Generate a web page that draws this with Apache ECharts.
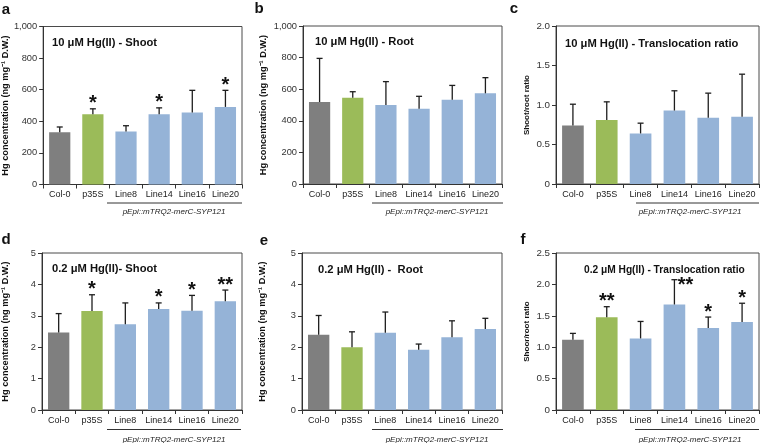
<!DOCTYPE html>
<html><head><meta charset="utf-8">
<script src="https://cdn.jsdelivr.net/npm/echarts@6.0.0/dist/echarts.min.js"></script>
<style>html,body{margin:0;padding:0;background:#fff}#c{width:760px;height:443px}</style>
</head><body><div id="c"></div>
<script>
// ---- data ----
const categories = ['Col-0', 'p35S', 'Line8', 'Line14', 'Line16', 'Line20'];

const shoot10 = [330, 445, 336, 445, 455, 491];
const shoot10Err = [34, 34, 36, 40, 141, 105];
const shoot10Stars = ['', '*', '', '*', '', '*'];

const root10 = [519, 546, 500, 477, 534, 574];
const root10Err = [276, 38, 148, 78, 90, 99];
const root10Stars = ['', '', '', '', '', ''];

const ratio10 = [0.74, 0.81, 0.64, 0.93, 0.84, 0.85];
const ratio10Err = [0.27, 0.23, 0.13, 0.25, 0.31, 0.54];
const ratio10Stars = ['', '', '', '', '', ''];

const shoot02 = [2.47, 3.15, 2.73, 3.22, 3.16, 3.46];
const shoot02Err = [0.60, 0.52, 0.68, 0.19, 0.49, 0.36];
const shoot02Stars = ['', '*', '', '*', '*', '**'];

const root02 = [2.40, 2.00, 2.46, 1.92, 2.32, 2.58];
const root02Err = [0.61, 0.49, 0.66, 0.18, 0.52, 0.34];
const root02Stars = ['', '', '', '', '', ''];

const ratio02 = [1.12, 1.475, 1.14, 1.68, 1.305, 1.40];
const ratio02Err = [0.10, 0.17, 0.27, 0.395, 0.175, 0.30];
const ratio02Stars = ['', '**', '', '**', '*', '*'];

const concTicks = {max: 1000, interval: 200};
const lowTicks = {max: 5, interval: 1};
const ratioTicks10 = {max: 2, interval: 0.5};
const ratioTicks02 = {max: 2.5, interval: 0.5};

const concName = 'Hg concentration (ng mg\u207B\u00B9 D.W.)';
const ratioName10 = 'Shoot/root ratio';
const ratioName02 = 'Shoor/root ratio';
const groupLabel = 'pEpi::mTRQ2-merC-SYP121';

// ---- styles / layout ----
const barColors = ['#7f7f7f', '#9bbb59', '#95b3d7', '#95b3d7', '#95b3d7', '#95b3d7'];
const FONT = 'Liberation Sans';

const panels = [
  {letter: 'a', lx: 6, ly: 10, title: '10 \u03BCM Hg(II) - Shoot', tx: 52, ty: 43, ts: 11.2,
   vals: shoot10, errs: shoot10Err, stars: shoot10Stars, ticks: concTicks, name: concName, nameSize: 9.2, nameGap: 32, fmt: 'comma', tickSize: 9.3,
   grid: {left: 42, top: 26.5, width: 200, height: 158}, br: [107, 242], capX: 174, row: 0},
  {letter: 'b', lx: 259, ly: 9, title: '10 \u03BCM Hg(II) - Root', tx: 315, ty: 42, ts: 11.2,
   vals: root10, errs: root10Err, stars: root10Stars, ticks: concTicks, name: concName, nameSize: 9.2, nameGap: 35, fmt: 'comma', tickSize: 9.3,
   grid: {left: 303, top: 26, width: 199, height: 158}, br: [372, 503], capX: 437, row: 0},
  {letter: 'c', lx: 514, ly: 9, title: '10 \u03BCM Hg(II) - Translocation ratio', tx: 565, ty: 44, ts: 11.2,
   vals: ratio10, errs: ratio10Err, stars: ratio10Stars, ticks: ratioTicks10, name: ratioName10, nameSize: 8, nameGap: 25, fmt: 'dec', tickSize: 9.8,
   grid: {left: 556, top: 26, width: 203, height: 158}, br: [636, 759], capX: 690, row: 0},
  {letter: 'd', lx: 6, ly: 240, title: '0.2 \u03BCM Hg(II)- Shoot', tx: 52, ty: 269, ts: 11.2,
   vals: shoot02, errs: shoot02Err, stars: shoot02Stars, ticks: lowTicks, name: concName, nameSize: 9.2, nameGap: 32, fmt: 'int', tickSize: 9.3,
   grid: {left: 41, top: 253, width: 201, height: 157}, br: [107, 241], capX: 174, row: 1},
  {letter: 'e', lx: 264, ly: 241, title: '0.2 \u03BCM Hg(II) -  Root', tx: 318, ty: 270, ts: 11.2,
   vals: root02, errs: root02Err, stars: root02Stars, ticks: lowTicks, name: concName, nameSize: 9.2, nameGap: 35, fmt: 'int', tickSize: 9.3,
   grid: {left: 302, top: 253, width: 200, height: 157}, br: [372, 503], capX: 437, row: 1},
  {letter: 'f', lx: 523, ly: 240, title: '0.2 \u03BCM Hg(II) - Translocation ratio', tx: 584, ty: 270, ts: 10.2,
   vals: ratio02, errs: ratio02Err, stars: ratio02Stars, ticks: ratioTicks02, name: ratioName02, nameSize: 8, nameGap: 25, fmt: 'dec', tickSize: 9.8,
   grid: {left: 556, top: 253, width: 203, height: 157}, br: [635, 759], capX: 690, row: 1,
   starShift: {3: [11, 11]}}
];

const rowY = [{line: 203, cap: 212}, {line: 429.5, cap: 439.5}];

function fmtFn(kind) {
  if (kind === 'comma') return v => v.toLocaleString('en-US');
  if (kind === 'dec') return v => (v === 0 ? '0' : v.toFixed(1));
  return v => String(v);
}

const grid = [], xAxis = [], yAxis = [], series = [], graphic = [];

panels.forEach((p, k) => {
  grid.push(Object.assign({show: true, borderColor: '#4a4a4a', borderWidth: 1, backgroundColor: 'transparent'}, p.grid));
  xAxis.push({
    type: 'category', gridIndex: k, data: categories,
    axisLine: {lineStyle: {color: '#333', width: 1}},
    axisTick: {show: true, interval: 0, length: 4, lineStyle: {color: '#333'}},
    axisLabel: {interval: 0, fontSize: 9, color: '#222', margin: 6, fontFamily: FONT}
  });
  yAxis.push({
    type: 'value', gridIndex: k, min: 0, max: p.ticks.max, interval: p.ticks.interval,
    name: p.name, nameLocation: 'middle', nameGap: p.nameGap,
    nameTextStyle: {fontSize: p.nameSize, fontWeight: 'bold', color: '#111', fontFamily: FONT},
    axisLine: {show: true, lineStyle: {color: '#333', width: 1}},
    axisTick: {show: true, length: 4, lineStyle: {color: '#333'}},
    splitLine: {show: false},
    axisLabel: {fontSize: p.tickSize, color: '#333', margin: 6, fontFamily: FONT, formatter: fmtFn(p.fmt)}
  });
  series.push({
    type: 'bar', xAxisIndex: k, yAxisIndex: k, barWidth: '64%', silent: true,
    data: p.vals.map((v, i) => ({value: v, itemStyle: {color: barColors[i]}}))
  });
  const stars = p.stars, shift = p.starShift || {};
  series.push({
    type: 'custom', xAxisIndex: k, yAxisIndex: k, z: 5, silent: true,
    encode: {x: 0, y: 1},
    data: p.vals.map((v, i) => [i, v, p.errs[i]]),
    renderItem: (params, api) => {
      const i = api.value(0), v = api.value(1), e = api.value(2);
      const p0 = api.coord([i, v]);
      const p1 = api.coord([i, v + e]);
      const st = {stroke: '#1e1e1e', lineWidth: 1.3};
      const children = [
        {type: 'line', shape: {x1: p0[0], y1: p0[1], x2: p1[0], y2: p1[1]}, style: st},
        {type: 'line', shape: {x1: p1[0] - 3, y1: p1[1], x2: p1[0] + 3, y2: p1[1]}, style: st}
      ];
      const s = stars[params.dataIndex];
      if (s) {
        const d = shift[params.dataIndex] || [0, 0];
        children.push({type: 'text', x: p1[0] + d[0], y: p1[1] - 5 + d[1],
          style: {text: s, fontSize: 20, fontWeight: 'bold', fontFamily: FONT, fill: '#111', align: 'center', verticalAlign: 'middle'}});
      }
      return {type: 'group', children};
    }
  });
  graphic.push({type: 'text', x: p.lx, y: p.ly,
    style: {text: p.letter, fontSize: 15, fontWeight: 'bold', fontFamily: FONT, fill: '#111', align: 'center', verticalAlign: 'middle'}});
  graphic.push({type: 'text', x: p.tx, y: p.ty,
    style: {text: p.title, fontSize: p.ts, fontWeight: 'bold', fontFamily: FONT, fill: '#111', align: 'left', verticalAlign: 'middle'}});
  const ry = rowY[p.row];
  graphic.push({type: 'line', shape: {x1: p.br[0], y1: ry.line, x2: p.br[1], y2: ry.line},
    style: {stroke: '#333', lineWidth: 1}});
  graphic.push({type: 'text', x: p.capX, y: ry.cap,
    style: {text: groupLabel, fontSize: 8, fontStyle: 'italic', fontFamily: FONT, fill: '#222', align: 'center', verticalAlign: 'middle'}});
});

const chart = echarts.init(document.getElementById('c'), null, {renderer: 'canvas'});
chart.setOption({
  backgroundColor: '#ffffff',
  animation: false,
  textStyle: {fontFamily: FONT},
  grid, xAxis, yAxis, series, graphic
});
</script>
</body></html>
